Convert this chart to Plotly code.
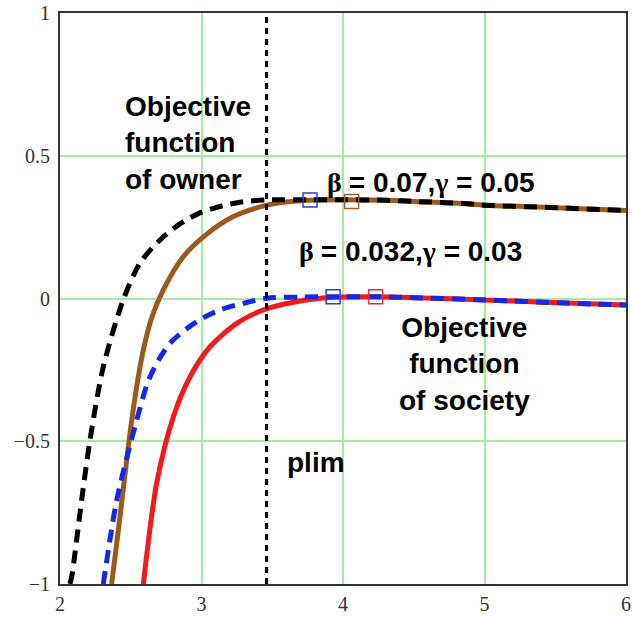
import plotly.graph_objects as go

# ---- data ----
owner_x_a = [2.07, 2.083, 2.153, 2.212, 2.306, 2.447, 2.565, 2.707, 2.85, 2.989, 3.15, 3.293, 3.46, 3.75, 4.0, 4.3, 4.5, 4.85, 5.0, 5.5, 6.0]
owner_y_a = [-1.0, -0.974, -0.706, -0.496, -0.239, -0.005, 0.124, 0.205, 0.262, 0.300, 0.325, 0.339, 0.345, 0.346, 0.346, 0.344, 0.340, 0.333, 0.327, 0.318, 0.308]

owner_x_b = [2.365, 2.424, 2.495, 2.54, 2.589, 2.65, 2.73, 2.871, 3.013, 3.225, 3.461, 3.6, 3.75, 4.0, 4.3, 4.5, 4.85, 5.0, 5.5, 6.0]
owner_y_b = [-1.0, -0.764, -0.471, -0.315, -0.180, -0.065, 0.030, 0.146, 0.216, 0.287, 0.327, 0.338, 0.344, 0.346, 0.344, 0.340, 0.333, 0.327, 0.318, 0.308]

soc_x_a = [2.306, 2.401, 2.518, 2.636, 2.777, 2.966, 3.13, 3.295, 3.46, 3.7, 3.93, 4.23, 4.5, 5.0, 5.58, 6.0]
soc_y_a = [-1.0, -0.706, -0.471, -0.274, -0.157, -0.081, -0.040, -0.017, 0.001, 0.005, 0.006, 0.006, 0.003, -0.005, -0.016, -0.023]

soc_x_b = [2.589, 2.683, 2.801, 2.919, 3.06, 3.249, 3.437, 3.65, 3.93, 4.23, 4.5, 5.0, 5.58, 6.0]
soc_y_b = [-1.0, -0.647, -0.414, -0.274, -0.169, -0.087, -0.040, -0.013, 0.004, 0.006, 0.003, -0.005, -0.016, -0.023]

plim = 3.46

owner_marks_x = [3.767, 4.061]
owner_marks_y = [0.345, 0.340]
soc_marks_x = [3.93, 4.231]
soc_marks_y = [0.006, 0.006]

x_ticks = [2, 3, 4, 5, 6]
y_ticks = [-1, -0.5, 0, 0.5, 1]
y_tick_text = ["\u22121", "\u22120.5", "0", "0.5", "1"]

BROWN = "#9b5a1c"
RED = "#f51a1a"
BLUE = "#1528e6"
GRID = "#a6eaa6"
SERIF = "Liberation Serif, Times New Roman, serif"

fig = go.Figure()

fig.add_trace(go.Scatter(x=owner_x_b, y=owner_y_b, mode="lines",
                         line=dict(color=BROWN, width=5, shape="spline", smoothing=0.8)))
fig.add_trace(go.Scatter(x=owner_x_a, y=owner_y_a, mode="lines",
                         line=dict(color="black", width=5, dash="13px,8px", shape="spline", smoothing=0.8)))
fig.add_trace(go.Scatter(x=soc_x_b, y=soc_y_b, mode="lines",
                         line=dict(color=RED, width=5, shape="spline", smoothing=0.8)))
fig.add_trace(go.Scatter(x=soc_x_a, y=soc_y_a, mode="lines",
                         line=dict(color=BLUE, width=5, dash="13px,8px", shape="spline", smoothing=0.8)))
fig.add_trace(go.Scatter(x=[plim, plim], y=[-1, 1], mode="lines",
                         line=dict(color="black", width=3, dash="6px,5px")))

fig.add_trace(go.Scatter(x=owner_marks_x, y=owner_marks_y, mode="markers",
                         marker=dict(symbol="square-open", size=14,
                                     color=["#3a3ad0", "#a0622d"], line=dict(width=1.5))))
fig.add_trace(go.Scatter(x=soc_marks_x, y=soc_marks_y, mode="markers",
                         marker=dict(symbol="square-open", size=14,
                                     color=["#3a3ad0", "#d03a3a"], line=dict(width=1.5))))

afont = dict(family="Liberation Sans, Arial, sans-serif", size=28, color="black", weight="bold")
SER = "<span style='font-family:Liberation Serif'>"

anns = [
    dict(x=2.445, y=0.544, text="Objective<br>function<br>of owner", xanchor="left", yanchor="middle", align="left"),
    dict(x=4.862, y=-0.229, text="Objective<br>function<br>of society", xanchor="center", yanchor="middle", align="center"),
    dict(x=3.59, y=-0.573, text="plim", xanchor="left", yanchor="middle"),
    dict(x=3.873, y=0.408, text=SER + "\u03b2 </span>= 0.07," + SER + "\u03b3</span> = 0.05", xanchor="left", yanchor="middle"),
    dict(x=3.675, y=0.166, text=SER + "\u03b2 </span>= 0.032," + SER + "\u03b3</span> = 0.03", xanchor="left", yanchor="middle"),
]
for a in anns:
    fig.add_annotation(xref="x", yref="y", showarrow=False, font=afont, **a)

fig.update_layout(
    width=633, height=617,
    margin=dict(l=60, r=7, t=13, b=33, autoexpand=False),
    plot_bgcolor="white", paper_bgcolor="white",
    showlegend=False,
)
fig.update_xaxes(range=[2, 6], tickvals=x_ticks, ticktext=[str(v) for v in x_ticks],
                 showgrid=True, gridcolor=GRID, gridwidth=2, zeroline=False,
                 showline=True, mirror=True, linecolor="#333333", linewidth=2,
                 ticks="", ticklabelstandoff=1, automargin=False,
                 tickfont=dict(family=SERIF, size=20, color="#333333"))
fig.update_yaxes(range=[-1, 1], tickvals=y_ticks, ticktext=y_tick_text,
                 showgrid=True, gridcolor=GRID, gridwidth=2, zeroline=False,
                 showline=True, mirror=True, linecolor="#333333", linewidth=2,
                 ticks="", ticklabelstandoff=4, automargin=False,
                 tickfont=dict(family=SERIF, size=20, color="#333333"))

fig.write_html("out.html")
